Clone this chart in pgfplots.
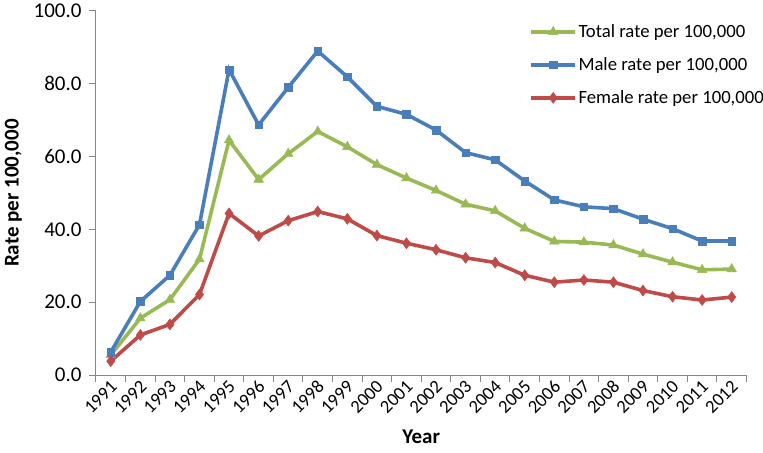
\documentclass[border=0pt]{standalone}
\usepackage{pgfplots}
\pgfplotsset{compat=1.18}
\usepackage{fontspec}
\setmainfont{Carlito}
\definecolor{cblue}{HTML}{4A7EBB}
\definecolor{cred}{HTML}{BE4B48}
\definecolor{cgreen}{HTML}{98B954}
\definecolor{axgray}{HTML}{868686}
\begin{document}
\begin{tikzpicture}
\path[use as bounding box] (-96bp,-78bp) rectangle (667bp,375bp);
\begin{axis}[
  at={(0,0)}, anchor=south west,
  scale only axis,
  width=650.5bp, height=364bp,
  xmin=1990.5, xmax=2012.5,
  ymin=0, ymax=100,
  axis x line*=bottom, axis y line*=left,
  axis line style={axgray, line width=1bp},
  xtick={1991,...,2012},
  xticklabels={1991,1992,1993,1994,1995,1996,1997,1998,1999,2000,2001,2002,2003,2004,2005,2006,2007,2008,2009,2010,2011,2012},
  major x tick style={draw=none},
  minor xtick={1990.5,1991.5,...,2012.5},
  minor tick length=7bp,
  minor x tick style={axgray, line width=1bp},
  ytick={0,20,40,60,80,100},
  major tick length=7bp,
  y tick style={axgray, line width=1bp},
  tick align=outside,
  /pgf/number format/assume math mode=true,
  yticklabel style={font=\fontsize{21bp}{24bp}\selectfont, xshift=-4bp, /pgf/number format/.cd, fixed, fixed zerofill, precision=1},
  xticklabel style={font=\fontsize{18.5bp}{22bp}\selectfont, rotate=45, anchor=east, inner sep=1bp, yshift=-3.5bp, xshift=2bp},
  xlabel={Year},
  ylabel={Rate per 100,000},
  xlabel style={font=\fontsize{21bp}{24bp}\selectfont\bfseries, at={(axis description cs:0.5,-0.171)}, anchor=center},
  ylabel style={font=\fontsize{21bp}{24bp}\selectfont\bfseries, at={(axis description cs:-0.127,0.5)}, anchor=center, rotate=0},
  legend style={at={(0.666,1.0)}, anchor=north west, draw=none, fill=none, yshift=-12bp,
    font=\fontsize{18.7bp}{22bp}\selectfont, row sep=15.5bp,
    nodes={inner sep=1.5bp},
    legend cell align=left, inner sep=0pt},
  legend image code/.code={\draw[mark repeat=2,mark phase=2] plot coordinates {(0bp,0bp) (22bp,0bp) (44bp,0bp)};},
  every axis plot/.append style={line width=3.6bp},
  clip=false,
]
\addplot[color=cgreen, mark=triangle*, mark size=5.5bp, mark options={line width=0.5bp}] coordinates {
(1991,5.5) (1992,15.6) (1993,20.7) (1994,31.8) (1995,64.5) (1996,53.7) (1997,60.8) (1998,66.9) (1999,62.7) (2000,57.8) (2001,54.1) (2002,50.7) (2003,46.9) (2004,45.1) (2005,40.3) (2006,36.7) (2007,36.5) (2008,35.7) (2009,33.2) (2010,31.0) (2011,28.9) (2012,29.1)};
\addlegendentry{Total rate per 100,000}
\addplot[color=cblue, mark=square*, mark size=3.8bp, mark options={line width=0.5bp}] coordinates {
(1991,6.3) (1992,20.2) (1993,27.4) (1994,41.3) (1995,83.9) (1996,68.7) (1997,79.0) (1998,89.0) (1999,81.9) (2000,73.8) (2001,71.6) (2002,67.3) (2003,61.1) (2004,59.1) (2005,53.3) (2006,48.1) (2007,46.2) (2008,45.7) (2009,42.8) (2010,40.2) (2011,36.8) (2012,36.8)};
\addlegendentry{Male rate per 100,000}
\addplot[color=cred, mark=diamond*, mark size=5.5bp, mark options={line width=0.5bp}] coordinates {
(1991,3.8) (1992,11.0) (1993,13.9) (1994,22.1) (1995,44.4) (1996,38.2) (1997,42.4) (1998,44.9) (1999,42.9) (2000,38.3) (2001,36.2) (2002,34.4) (2003,32.2) (2004,30.9) (2005,27.4) (2006,25.5) (2007,26.1) (2008,25.5) (2009,23.2) (2010,21.5) (2011,20.6) (2012,21.4)};
\addlegendentry{Female rate per 100,000}
\end{axis}
\end{tikzpicture}
\end{document}
